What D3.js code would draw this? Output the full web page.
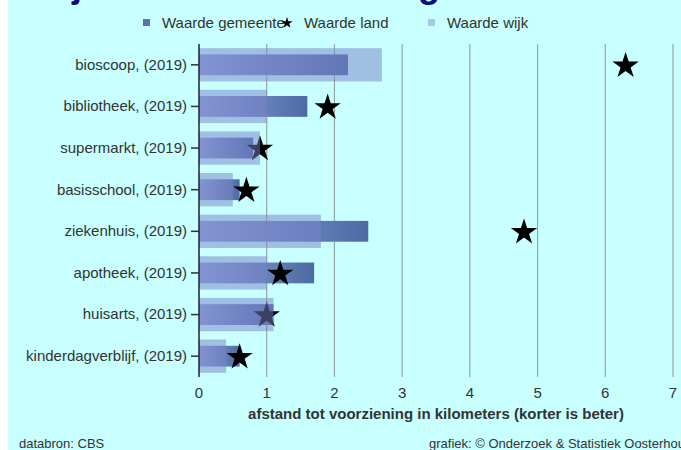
<!DOCTYPE html>
<html>
<head>
<meta charset="utf-8">
<script src="https://cdn.jsdelivr.net/npm/d3@7"></script>
<style>
  body { margin: 0; background: #fff; }
  svg { display: block; font-family: "Liberation Sans", Arial, sans-serif; }
</style>
</head>
<body>
<svg id="chart" width="681" height="450"></svg>
<script>
// categories and values (km)
const categories = ["bioscoop, (2019)", "bibliotheek, (2019)", "supermarkt, (2019)", "basisschool, (2019)",
    "ziekenhuis, (2019)", "apotheek, (2019)", "huisarts, (2019)", "kinderdagverblijf, (2019)"];
const gemeente = [2.2, 1.6, 0.8, 0.6, 2.5, 1.7, 1.1, 0.6];
const land = [6.3, 1.9, 0.9, 0.7, 4.8, 1.2, 1.0, 0.6];
const wijk = [2.7, 1.0, 0.9, 0.5, 1.8, 1.0, 1.1, 0.4];
const xTicks = [0, 1, 2, 3, 4, 5, 6, 7];
const legendLabels = ["Waarde gemeente", "Waarde land", "Waarde wijk"];

const svg = d3.select("#chart");
const W = 681, H = 450;
const m = { left: 199, right: 8, top: 44, bottom: 73 };

// background (white strip left)
svg.append("rect").attr("x", 8).attr("y", 0).attr("width", W).attr("height", H).attr("fill", "#c8ffff");

// title, mostly cut off at the top (as in the original)
svg.append("text")
    .attr("x", -6).attr("y", -3)
    .attr("font-size", 36).attr("font-weight", "bold")
    .attr("fill", "#0a0a80")
    .text("Nabijheid van voorzieningen");

const x = d3.scaleLinear().domain([0, 7]).range([m.left, W - m.right]);
const y = d3.scaleBand().domain(categories).range([m.top, H - m.bottom]);

const defs = svg.append("defs");
const grad = defs.append("linearGradient").attr("id", "gemGrad");
grad.append("stop").attr("offset", "0%").attr("stop-color", "#8ea6dc");
grad.append("stop").attr("offset", "100%").attr("stop-color", "#4d6aa3");

// grid lines
svg.append("g").selectAll("line").data(xTicks.slice(1)).join("line")
    .attr("x1", d => x(d)).attr("x2", d => x(d))
    .attr("y1", m.top).attr("y2", H - m.bottom)
    .attr("stroke", "#9aa4a4").attr("stroke-width", 1.2);

// x tick labels
svg.append("g").selectAll("text").data(xTicks).join("text")
    .attr("x", d => x(d)).attr("y", 398)
    .attr("text-anchor", "middle").attr("font-size", 15).attr("fill", "#333")
    .text(d => d);

svg.append("text")
    .attr("x", (m.left + W - m.right) / 2).attr("y", 419)
    .attr("text-anchor", "middle").attr("font-size", 15).attr("font-weight", "bold").attr("fill", "#333")
    .text("afstand tot voorziening in kilometers (korter is beter)");

const bh = y.bandwidth();

// gemeente bars
svg.append("g").selectAll("rect").data(gemeente).join("rect")
    .attr("x", x(0))
    .attr("y", (d, i) => y(categories[i]) + bh * 0.25)
    .attr("width", d => x(d) - x(0))
    .attr("height", bh * 0.5)
    .attr("fill", "url(#gemGrad)");

// land stars
const star = d3.symbol().type(d3.symbolStar).size(215);
svg.append("g").selectAll("path").data(land).join("path")
    .attr("transform", (d, i) => `translate(${x(d)},${y(categories[i]) + bh / 2 + 1})`)
    .attr("d", star)
    .attr("fill", "#000");

// wijk bars (transparent, on top)
svg.append("g").selectAll("rect").data(wijk).join("rect")
    .attr("x", x(0))
    .attr("y", (d, i) => y(categories[i]) + bh * 0.1)
    .attr("width", d => x(d) - x(0))
    .attr("height", bh * 0.8)
    .attr("fill", "#7882c8")
    .attr("fill-opacity", 0.5);

// y axis
const yAxis = svg.append("g").attr("transform", `translate(${m.left},0)`)
    .call(d3.axisLeft(y).tickSize(8).tickPadding(4));
yAxis.select(".domain").attr("stroke", "#222").attr("stroke-width", 1.5).attr("d", `M0,${m.top}V${H - m.bottom}`);
yAxis.selectAll(".tick line").attr("stroke", "#333").attr("stroke-width", 1.5);
yAxis.selectAll(".tick text").attr("font-size", 15).attr("fill", "#333")
    .attr("font-family", "Liberation Sans, Arial, sans-serif");

// legend
const lg = svg.append("g").attr("font-size", 15).attr("fill", "#333");
lg.append("rect").attr("x", 143).attr("y", 19).attr("width", 7).attr("height", 7).attr("fill", "#5b73aa");
lg.append("text").attr("x", 162).attr("y", 28).text(legendLabels[0]);
lg.append("path").attr("transform", "translate(287,23)")
    .attr("d", d3.symbol().type(d3.symbolStar).size(40)).attr("fill", "#000");
lg.append("text").attr("x", 304).attr("y", 28).text(legendLabels[1]);
lg.append("rect").attr("x", 428).attr("y", 19).attr("width", 7).attr("height", 7).attr("fill", "#a8c8e8");
lg.append("text").attr("x", 447).attr("y", 28).text(legendLabels[2]);

// footer
svg.append("text").attr("x", 19).attr("y", 448).attr("font-size", 13).attr("fill", "#333").text("databron: CBS");
svg.append("text").attr("x", 429).attr("y", 448).attr("font-size", 13).attr("fill", "#333")
    .text("grafiek: © Onderzoek & Statistiek Oosterhout");
</script>
</body>
</html>
